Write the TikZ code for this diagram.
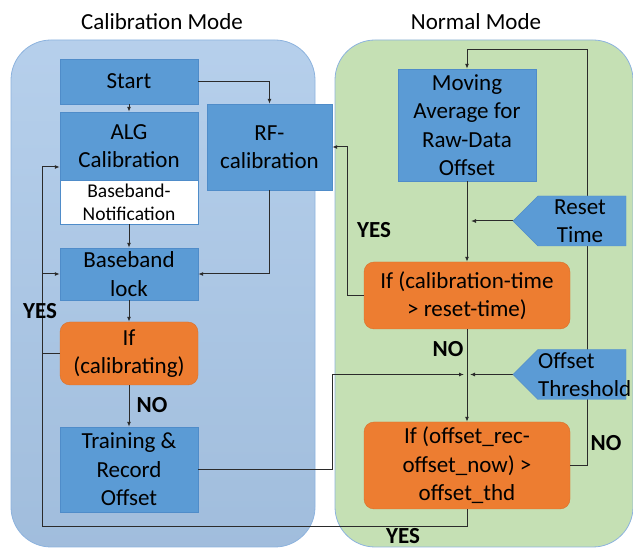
\documentclass[tikz,border=0pt]{standalone}
\usepackage{fontspec}
\setmainfont{Carlito}
\usetikzlibrary{arrows.meta}

\definecolor{boxblue}{HTML}{5B9BD5}
\definecolor{boxedge}{HTML}{4F8CC9}
\definecolor{testorange}{HTML}{ED7D31}
\definecolor{testedge}{HTML}{D9702A}
\definecolor{calpanel}{HTML}{A9C7E8}
\definecolor{normpanel}{HTML}{C5E0B4}
\definecolor{paneledge}{HTML}{8DB3DE}
\definecolor{wire}{HTML}{2B2B2B}

\begin{document}
\begin{tikzpicture}[x=1pt, y=-1pt, font=\fontsize{23}{28.5}\selectfont,
    box/.style={draw=boxedge, fill=boxblue, minimum width=138pt, align=center,
      inner sep=1pt},
    test/.style={draw=testedge, fill=testorange, rounded corners=10pt,
      align=center, inner sep=1pt},
    panel/.style={draw=paneledge, rounded corners=40pt, line width=0.8pt},
    wireline/.style={draw=wire, line width=1pt},
    arrow/.style={wireline, -{Latex[length=5pt, width=4pt]}},
    answer/.style={font=\fontsize{23}{28}\selectfont\bfseries}]
  \useasboundingbox (0,0) rectangle (633,548);

  % the two modes
  \path[panel, top color=calpanel!85!white, bottom color=calpanel!95!black]
    (11,40) rectangle (315,547);
  \path[panel, fill=normpanel] (335,40) rectangle (633,547);
  \node (caltitle) at (162,22) {Calibration Mode};
  \node (normtitle) at (476,22) {Normal Mode};

  % calibration mode
  \node[box, minimum height=45pt] (start) at (129,81.5) {Start};
  \node[box, minimum height=68pt] (alg) at (129,146) {ALG\\Calibration};
  \node[box, fill=white, minimum height=44pt,
    font=\fontsize{19.5}{23}\selectfont] (notif) at (129,202)
    {Baseband-\\Notification};
  \node[box, minimum width=125pt, minimum height=86pt] (rf) at (269.5,147)
    {RF-\\calibration};
  \node[box, minimum height=52pt] (lock) at (129,274) {Baseband\\lock};
  \node[test, minimum width=138pt, minimum height=63pt] (ifcal) at (129,353.5)
    {If\\(calibrating)};
  \node[box, minimum height=85pt] (train) at (129,469.5)
    {Training \&\\Record\\Offset};

  % normal mode
  \node[box, minimum height=112pt] (avg) at (467,125)
    {Moving\\Average for\\Raw-Data\\Offset};
  \node[test, minimum width=206pt, minimum height=67pt] (ifreset) at (467,295.5)
    {If (calibration-time\\> reset-time)};
  \node[test, minimum width=206pt, minimum height=87pt] (ifoff) at (467,465.5)
    {If (offset\_rec-\\offset\_now) >\\offset\_thd};

  \coordinate (resettip) at (513,221);
  \coordinate (thrtip) at (513,374.5);
  \coordinate (yesbot) at (42,527);
  \coordinate (trainbend) at (332,469.5);
  \coordinate (loopbend) at (587,50);

  % connectors
  \draw[arrow] (start) -| (rf);
  \draw[arrow] (start) -- (alg);
  \draw[arrow] (notif) -- (lock);
  \draw[arrow] (rf) |- (lock);
  \draw[arrow] (lock) -- (ifcal);
  \draw[arrow] (ifcal) -- (train);
  \draw[arrow] (ifoff) |- (yesbot) |- ([yshift=-21pt]alg.west);
  \draw[arrow] (yesbot |- lock.west) -- (lock.west);
  \draw[wireline] (ifcal.west) -- (yesbot |- ifcal.west);
  \draw[arrow] (train) -- (trainbend) |- ([xshift=-3pt]ifreset.south |- thrtip);
  \draw[arrow] (avg) -- (ifreset);
  \draw[arrow] (resettip) -- ([xshift=4pt]avg.south |- resettip);
  \draw[arrow] (ifreset) -- (ifoff);
  \draw[arrow] (thrtip) -- ([xshift=3pt]ifreset.south |- thrtip);
  \draw[arrow] (ifreset.west) -- ++(-16,0) |- (rf.east);
  \draw[arrow] (ifoff.east) -| (loopbend) -| (avg.north);

  % input tags
  \filldraw[draw=boxedge, fill=boxblue] (resettip) -- (538,196) -- (626,196)
    -- (626,246) -- (538,246) -- cycle;
  \node[align=center] (reset) at (580,221) {Reset\\Time};
  \filldraw[draw=boxedge, fill=boxblue] (thrtip) -- (538,349.5) -- (626,349.5)
    -- (626,399.5) -- (538,399.5) -- cycle;
  \node[anchor=west, align=left, inner sep=0pt] (thr) at (538,374.5)
    {Offset\\Threshold};

  % branch answers
  \node[answer] (calyes) at (40,311) {YES};
  \node[answer] (calno) at (152,405) {NO};
  \node[answer] (resetyes) at (374,230) {YES};
  \node[answer] (resetno) at (448,349) {NO};
  \node[answer] (offno) at (606,443) {NO};
  \node[answer] (offyes) at (403,536) {YES};
\end{tikzpicture}
\end{document}
